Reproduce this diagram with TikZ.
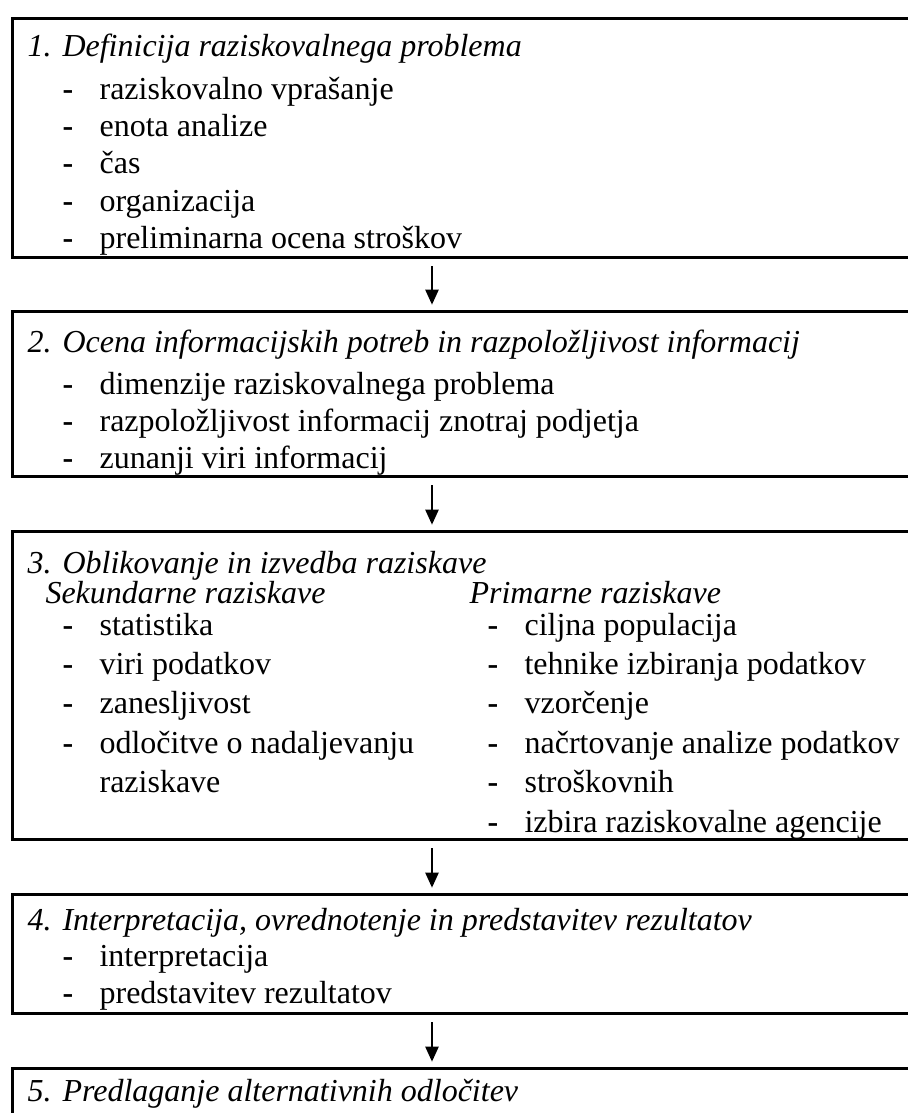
\documentclass[tikz,border=0pt]{standalone}
\usepackage{fontspec}
\setmainfont{Liberation Serif}
\usetikzlibrary{arrows.meta, positioning}
\newcommand*{\px}{0.375pt}
\newcommand*{\itemrows}[1]{\begin{tabular}[t]{@{}p{13.9pt}@{}l@{}}#1\end{tabular}}
\newcommand*{\dash}{\textbf{-}}

\begin{document}
\begin{tikzpicture}[
        x=\px, y=-\px,
        box/.style={draw, line width=1.25pt, anchor=north west, minimum width=345pt, inner sep=0pt},
        txt/.style={anchor=base west, inner sep=0pt, font=\fontsize{12pt}{14pt}\selectfont},
        wide/.style={txt, font=\fontsize{12pt}{14.8pt}\selectfont},
        head/.style={txt, font=\fontsize{12pt}{14pt}\selectfont\itshape},
        flow/.style={-{Triangle[width=4.9pt,length=5.6pt]}, line width=0.75pt, shorten <=2.6pt, shorten >=2pt},
        ]
        \useasboundingbox (0,0) rectangle (908,1113);
        \clip (0,0) rectangle (908,1113);

        \node[box, minimum height=239*\px] (s_1) at (11,17)   {};
        \node[box, minimum height=165*\px] (s_2) at (11,310)  {};
        \node[box, minimum height=308*\px] (s_3) at (11,530)  {};
        \node[box, minimum height=119*\px] (s_4) at (11,893)  {};
        \node[box, minimum height=140*\px] (s_5) at (11,1067) {};

        \node[head] (n_1) at (27,56) {1.};
        \node[head] (h_1) at (62,56) {Definicija raziskovalnega problema};
        \node[txt]  (l_1) at (62,99) {\itemrows{\dash & raziskovalno vprašanje\\ \dash & enota analize\\ \dash & čas\\
            \dash & organizacija\\ \dash & preliminarna ocena stroškov}};

        \node[head] (n_2) at (27,352) {2.};
        \node[head] (h_2) at (62,352) {Ocena informacijskih potreb in razpoložljivost informacij};
        \node[txt]  (l_2) at (62,394) {\itemrows{\dash & dimenzije raziskovalnega problema\\
            \dash & razpoložljivost informacij znotraj podjetja\\ \dash & zunanji viri informacij}};

        \node[head] (n_3) at (27,573)  {3.};
        \node[head] (h_3) at (62,573)  {Oblikovanje in izvedba raziskave};
        \node[head] (p_a) at (45,603)  {Sekundarne raziskave};
        \node[head] (p_b) at (469,603) {Primarne raziskave};
        \node[wide] (l_3a) at (62,635) {\itemrows{\dash & statistika\\ \dash & viri podatkov\\ \dash & zanesljivost\\
            \dash & odločitve o nadaljevanju\\ & raziskave}};
        \node[wide] (l_3b) at (487,635) {\itemrows{\dash & ciljna populacija\\ \dash & tehnike izbiranja podatkov\\
            \dash & vzorčenje\\ \dash & načrtovanje analize podatkov\\ \dash & stroškovnih\\ \dash & izbira raziskovalne agencije}};

        \node[head] (n_4) at (27,930) {4.};
        \node[head] (h_4) at (62,930) {Interpretacija, ovrednotenje in predstavitev rezultatov};
        \node[txt]  (l_4) at (62,966) {\itemrows{\dash & interpretacija\\ \dash & predstavitev rezultatov}};

        \node[head] (n_5) at (27,1101) {5.};
        \node[head] (h_5) at (62,1101) {Predlaganje alternativnih odločitev};

        \coordinate (ax) at (432,0);
        \draw[flow] (s_1.south -| ax) -- (s_2.north -| ax);
        \draw[flow] (s_2.south -| ax) -- (s_3.north -| ax);
        \draw[flow] (s_3.south -| ax) -- (s_4.north -| ax);
        \draw[flow] (s_4.south -| ax) -- (s_5.north -| ax);
      \end{tikzpicture}
\end{document}
